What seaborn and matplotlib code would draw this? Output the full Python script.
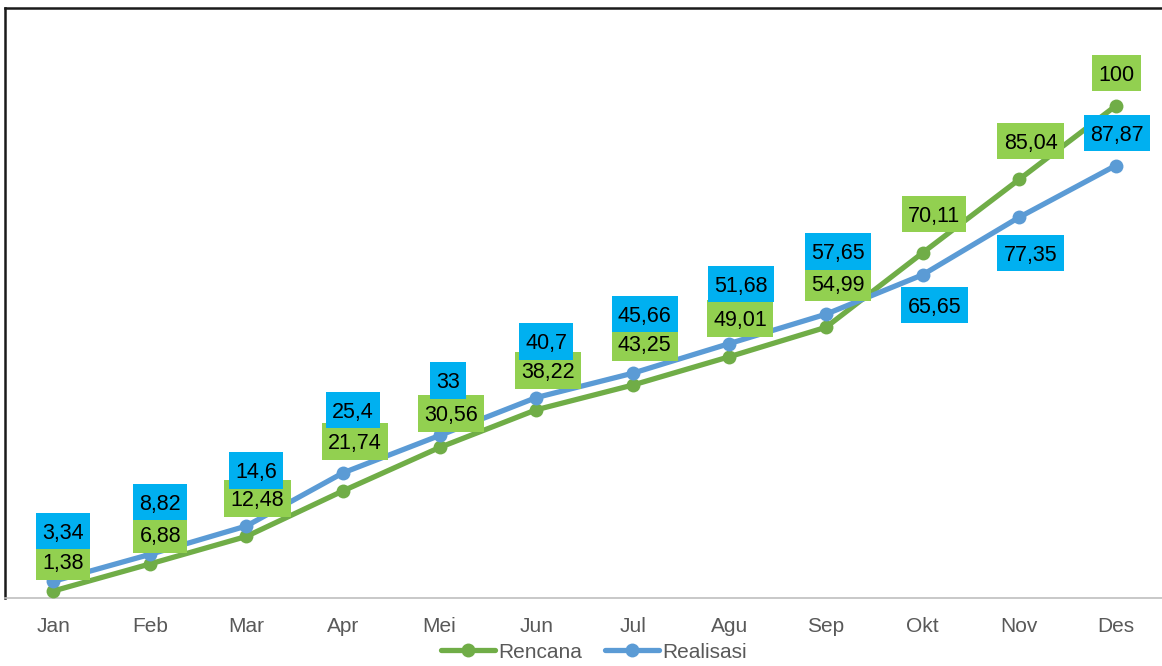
import numpy as np
import pandas as pd
import matplotlib
matplotlib.use("Agg")
import matplotlib.pyplot as plt
from matplotlib.path import Path
from matplotlib.lines import Line2D
import seaborn as sns

# ---- data ----
months = ["Jan", "Feb", "Mar", "Apr", "Mei", "Jun", "Jul", "Agu", "Sep", "Okt", "Nov", "Des"]
rencana = [1.38, 6.88, 12.48, 21.74, 30.56, 38.22, 43.25, 49.01, 54.99, 70.11, 85.04, 100]
realisasi = [3.34, 8.82, 14.6, 25.4, 33, 40.7, 45.66, 51.68, 57.65, 65.65, 77.35, 87.87]
series_names = ["Rencana", "Realisasi"]

# label placement relative to each point (pixels, +y is up)
rencana_label_dx = [10, 10.5, 11, 12, 11, 11.5, 12, 11, 11.7, 11.5, 11.4, 0.5]
rencana_label_dy = [29.5, 29.5, 37.7, 49.4, 34, 39.3, 42, 38.3, 44.4, 39, 38.6, 33]
realisasi_label_dx = [10, 10.5, 9.3, 10.2, 8, 10, 12, 11.3, 11.7, 12, 11.4, 1]
realisasi_label_dy = [50.4, 52.4, 55.5, 62.9, 55, 56.1, 59.2, 59.6, 62.8, -30.1, -35.6, 32.7]

# ---- styling ----
sns.set_theme(style="white")
plt.rcParams["font.family"] = ["Liberation Sans", "DejaVu Sans"]

line_colors = {"Rencana": "#70AD47", "Realisasi": "#5B9BD5"}
box_colors = {"Rencana": "#92D050", "Realisasi": "#00B0F0"}
FS_LABEL = 15.5
FS_AXIS = 15
DPI = 100

df = pd.DataFrame({
    "idx": list(range(len(months))) * 2,
    "value": rencana + realisasi,
    "series": [series_names[0]] * len(months) + [series_names[1]] * len(months),
})

fig = plt.figure(figsize=(11.62, 6.66), dpi=DPI)
ax = fig.add_axes([5 / 1162, (666 - 597.8) / 666, (1164 - 5) / 1162, (597.8 - 7.5) / 666])

sns.lineplot(data=df, x="idx", y="value", hue="series", hue_order=series_names,
             palette=line_colors, marker="o", markersize=10, markeredgewidth=0,
             linewidth=3.8, legend=False, ax=ax, zorder=3)

ax.set_xlim(-0.5, len(months) - 0.5)
ax.set_ylim(0, 120)
ax.set_xticks(range(len(months)))
ax.set_xticklabels(months, fontsize=FS_AXIS, color="#595959")
ax.set_yticks([])
ax.set_xlabel("")
ax.set_ylabel("")
ax.tick_params(axis="x", length=0, pad=14)

for side in ("top", "left"):
    ax.spines[side].set_color("#1a1a1a")
    ax.spines[side].set_linewidth(1.8)
ax.spines["bottom"].set_color("#BFBFBF")
ax.spines["bottom"].set_linewidth(1.2)
ax.spines["right"].set_visible(False)


# label box: wider horizontal padding than vertical, nudged up to sit on the digits
def label_box(x0, y0, width, height, mutation_size):
    px = 0.29 * mutation_size
    py = 0.36 * mutation_size
    shift = 0.10 * mutation_size
    x1, y1 = x0 - px, y0 - py + shift
    x2, y2 = x0 + width + px, y0 + height + py + shift
    return Path([(x1, y1), (x2, y1), (x2, y2), (x1, y2), (x1, y1)], closed=True)


px2pt = 72 / DPI
text_shift = 0.10 * FS_LABEL / px2pt  # pixels

label_sets = [
    ("Rencana", rencana, rencana_label_dx, rencana_label_dy, 5),
    ("Realisasi", realisasi, realisasi_label_dx, realisasi_label_dy, 6),
]
for name, vals, dxs, dys, z in label_sets:
    for i, (v, dx, dy) in enumerate(zip(vals, dxs, dys)):
        txt = f"{v:g}".replace(".", ",")
        ax.annotate(txt, xy=(i, v),
                    xytext=(dx * px2pt, (dy - text_shift) * px2pt),
                    textcoords="offset points", ha="center", va="center",
                    fontsize=FS_LABEL, color="black", zorder=z,
                    bbox=dict(boxstyle=label_box, facecolor=box_colors[name],
                              edgecolor="none"),
                    annotation_clip=False)

handles = [Line2D([0], [0], color=line_colors[n], linewidth=3.8, marker="o",
                  markersize=10, markeredgewidth=0) for n in series_names]
fig.legend(handles, series_names, loc="center", bbox_to_anchor=(594 / 1162, 1 - 652 / 666),
           ncol=2, frameon=False, fontsize=FS_AXIS, labelcolor="#595959",
           handlelength=2.6, handletextpad=0.15, columnspacing=1.1, borderaxespad=0)

fig.savefig("out.png", dpi=DPI)
